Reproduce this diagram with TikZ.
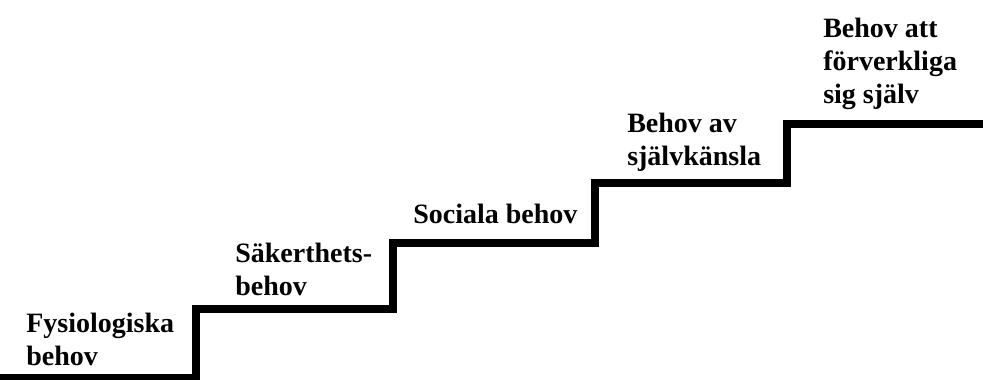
\documentclass[tikz,border=0pt]{standalone}
\usepackage{fontspec}
\setmainfont{Liberation Serif}
\begin{document}
\begin{tikzpicture}[x=0.75pt,y=0.75pt,yscale=-1,xscale=1,
  steplbl/.style={anchor=base west,inner sep=0pt,align=left,font=\fontsize{21}{24.75}\selectfont\bfseries},
  stairline/.style={line width=6pt,miter limit=10}]
\useasboundingbox (0,0) rectangle (983,379);

%Straight Lines: corners of the stairs
\coordinate (s0) at (-5,377.5);
\coordinate (s1) at (196,377.5);
\coordinate (s2) at (196,309);
\coordinate (s3) at (393,309);
\coordinate (s4) at (393,243);
\coordinate (s5) at (595,243);
\coordinate (s6) at (595,183);
\coordinate (s7) at (787,183);
\coordinate (s8) at (787,124);
\coordinate (s9) at (990,124);
\draw [stairline] (s0) -- (s1) -- (s2) -- (s3) -- (s4) -- (s5) -- (s6) -- (s7) -- (s8) -- (s9);

% Text Node (anchored at baseline of last line)
\node [steplbl] (fysio) at (26,365) {Fysiologiska\\behov};
% Text Node
\node [steplbl] (saker) at (235,295) {Säkerthets-\\behov};
% Text Node
\node [steplbl] (social) at (413,223) {Sociala behov};
% Text Node
\node [steplbl] (sjalv) at (627,165) {Behov av\\självkänsla};
% Text Node
\node [steplbl] (forverk) at (823,103) {Behov att\\förverkliga\\sig själv};

\end{tikzpicture}
\end{document}
